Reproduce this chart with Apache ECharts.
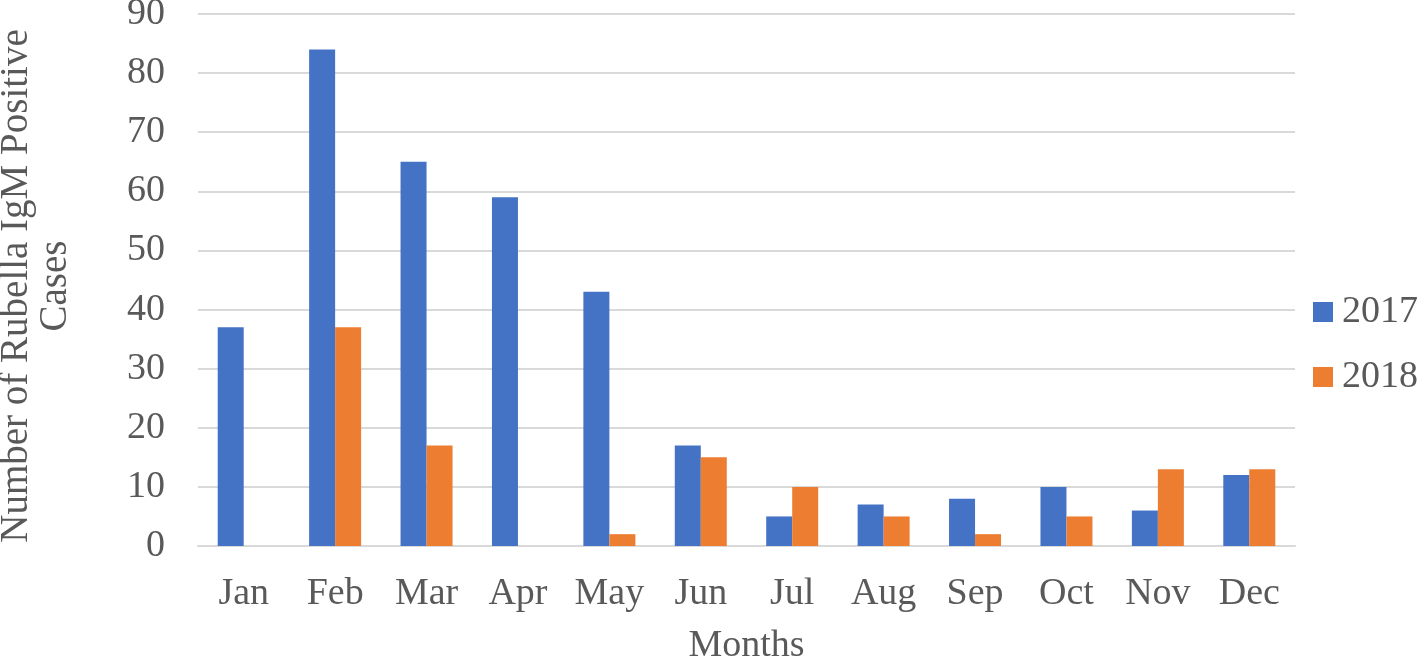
<!DOCTYPE html>
<html>
<head>
<meta charset="utf-8">
<script src="https://cdn.jsdelivr.net/npm/echarts@6/dist/echarts.min.js"></script>
<style>
  html, body { margin: 0; padding: 0; background: #fff; }
  #chart { width: 1418px; height: 659px; }
</style>
</head>
<body>
<div id="chart"></div>
<script>
// monthly rubella IgM positive cases
var months = ['Jan', 'Feb', 'Mar', 'Apr', 'May', 'Jun', 'Jul', 'Aug', 'Sep', 'Oct', 'Nov', 'Dec'];
var cases2017 = [37, 84, 65, 59, 43, 17, 5, 7, 8, 10, 6, 12];
var cases2018 = [0, 37, 17, 0, 2, 15, 10, 5, 2, 5, 13, 13];
var yTicks = { min: 0, max: 90, interval: 10 };

var chart = echarts.init(document.getElementById('chart'));
var font = "'Liberation Serif', 'Times New Roman', serif";
var textColor = '#595959';

chart.setOption({
  animation: false,
  color: ['#4472c4', '#ed7d31'],
  textStyle: { fontFamily: font },
  grid: { left: 198, right: 123, top: 14, bottom: 113, outerBoundsMode: 'none' },
  legend: {
    orient: 'vertical',
    left: 1313,
    top: 293,
    itemWidth: 20,
    itemHeight: 20,
    itemGap: 27,
    icon: 'rect',
    padding: 0,
    textStyle: { fontFamily: font, fontSize: 38, color: textColor, padding: [0, 0, 0, 4] },
    data: ['2017', '2018']
  },
  xAxis: {
    type: 'category',
    data: months,
    axisTick: { show: false },
    axisLine: { lineStyle: { color: '#d9d9d9', width: 2 } },
    axisLabel: { fontFamily: font, fontSize: 38, color: textColor, margin: 29 },
    name: 'Months',
    nameLocation: 'middle',
    nameGap: 81,
    nameTextStyle: { fontFamily: font, fontSize: 38, color: textColor }
  },
  yAxis: {
    type: 'value',
    min: yTicks.min,
    max: yTicks.max,
    interval: yTicks.interval,
    axisLine: { show: false },
    axisTick: { show: false },
    splitLine: { lineStyle: { color: '#d9d9d9', width: 2 } },
    axisLabel: { fontFamily: font, fontSize: 38, color: textColor, margin: 33 },
    name: 'Number of Rubella IgM Positive\nCases',
    nameLocation: 'middle',
    nameRotate: 90,
    nameGap: 123,
    nameTextStyle: { fontFamily: font, fontSize: 39, color: textColor, lineHeight: 39, align: 'center', padding: [0, 12, 0, 0] }
  },
  series: [{
    name: '2017',
    type: 'bar',
    data: cases2017,
    barWidth: 26,
    barGap: '0%'
  }, {
    name: '2018',
    type: 'bar',
    data: cases2018,
    barWidth: 26,
    barGap: '0%'
  }]
});
</script>
</body>
</html>
